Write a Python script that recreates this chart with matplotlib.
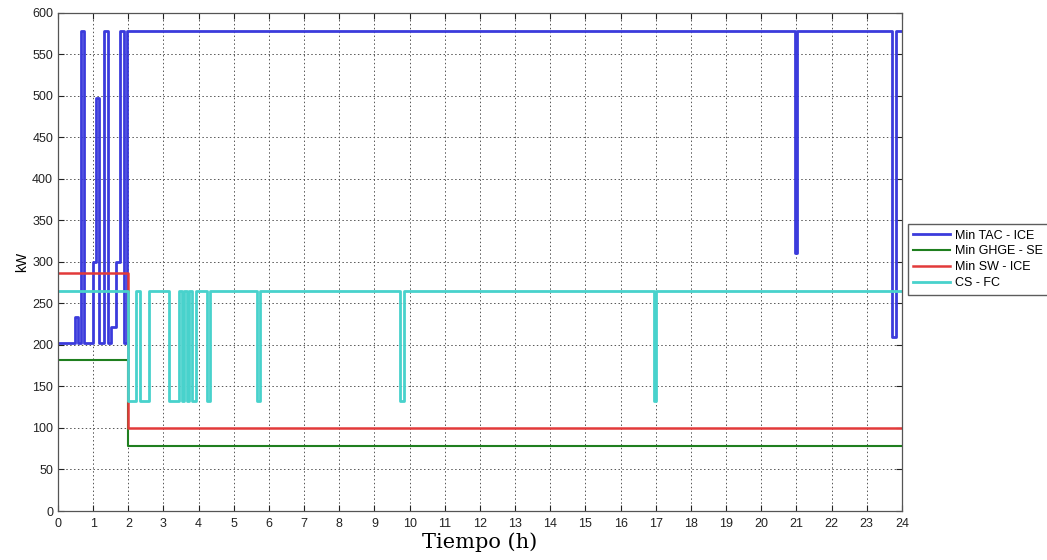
import matplotlib
matplotlib.use('Agg')
import matplotlib.pyplot as plt

# step breakpoints (hour, kW)
tac_t = [0, 0.48, 0.58, 0.65, 0.73, 1.0, 1.07, 1.16, 1.30, 1.41, 1.52, 1.66, 1.75, 1.87, 1.96,
         20.97, 21.03, 23.72, 23.83, 24]
tac_kw = [202, 233, 202, 578, 202, 300, 497, 202, 578, 202, 222, 300, 578, 202, 578,
          310, 578, 210, 578, 578]

ghge_t = [0, 2.0, 24]
ghge_kw = [182, 78, 78]

sw_t = [0, 2.0, 24]
sw_kw = [287, 100, 100]

cs_t = [0, 2.0, 2.22, 2.34, 2.59, 3.17, 3.45, 3.52, 3.58, 3.68, 3.73, 3.80, 3.92,
        4.23, 4.33, 5.66, 5.75, 9.73, 9.83, 16.95, 17.02, 24]
cs_kw = [265, 133, 265, 133, 265, 133, 265, 133, 265, 133, 265, 133, 265,
         133, 265, 133, 265, 133, 265, 133, 265, 265]

labels = ['Min TAC - ICE', 'Min GHGE - SE', 'Min SW - ICE', 'CS - FC']
x_ticks = list(range(0, 25))
y_ticks = list(range(0, 601, 50))

plt.rcParams['font.family'] = ['Liberation Sans', 'DejaVu Sans']

fig = plt.figure(figsize=(10.47, 5.6), dpi=100)
ax = fig.add_axes([0.0554, 0.0875, 0.806, 0.89])

ax.step(tac_t, tac_kw, where='post', color='#3b3bdc', linewidth=2.0, label=labels[0])
ax.step(ghge_t, ghge_kw, where='post', color='#1f7f1f', linewidth=1.5, label=labels[1])
ax.step(sw_t, sw_kw, where='post', color='#e23a3a', linewidth=1.8, label=labels[2])
ax.step(cs_t, cs_kw, where='post', color='#48d2cc', linewidth=2.0, label=labels[3])

ax.set_xlim(0, 24)
ax.set_ylim(0, 600)
ax.set_xticks(x_ticks)
ax.set_yticks(y_ticks)
ax.tick_params(direction='in', length=4, top=True, right=True, labelsize=9, colors='#222222')
ax.tick_params(axis='x', pad=5)
for s in ax.spines.values():
    s.set_color('#555555')
    s.set_linewidth(0.9)

ax.grid(True, color='#555555', linestyle=(0, (1.5, 2.5)), linewidth=0.7)
ax.set_axisbelow(True)

ax.set_xlabel('Tiempo (h)', family='DejaVu Serif', fontsize=15, labelpad=2)
ax.set_ylabel('kW', fontsize=10, labelpad=2)

fig.legend(loc='upper left', bbox_to_anchor=(0.867, 0.6), fontsize=9, handlelength=2.9,
           frameon=True, fancybox=False, edgecolor='#333333', borderaxespad=0,
           labelspacing=0.3, handletextpad=0.4, borderpad=0.45)

fig.savefig('out.png', dpi=100)
